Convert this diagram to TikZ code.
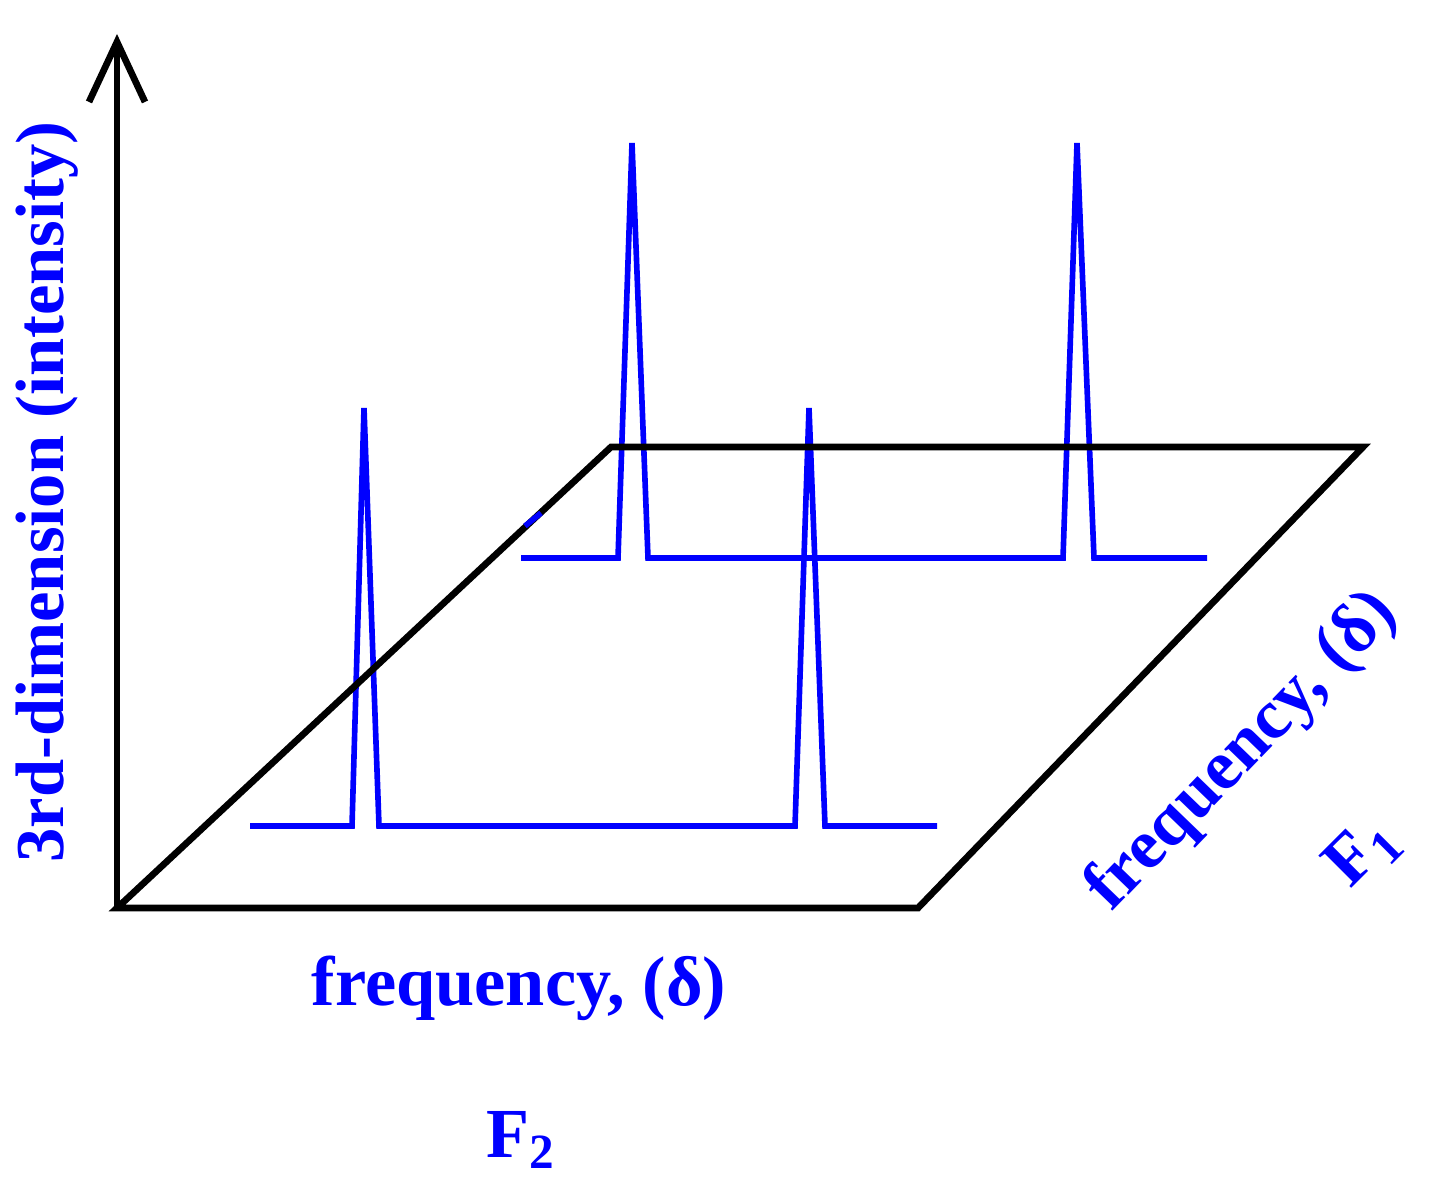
\documentclass[tikz,border=0pt]{standalone}
\usepackage{xcolor}
\usepackage{fontspec}
\setmainfont{Liberation Serif}
\usepackage{tikz}
\usetikzlibrary{arrows.meta,positioning}

\begin{document}
\begin{tikzpicture}[
    x=0.01cm, y=-0.01cm,
    plane/.style={draw=black, line width=1.9pt, line join=miter},
    peak/.style={draw=blue, line width=1.6pt, line join=miter},
    lbl/.style={text=blue, font=\fontsize{20}{24}\selectfont\bfseries, inner sep=0pt}
]
    \useasboundingbox (0,0) rectangle (1440,1182);

    % corners of the plane
    \coordinate (origin) at (117,908);
    \coordinate (front) at (918,908);
    \coordinate (farright) at (1363,447);
    \coordinate (farleft) at (611,447);
    \coordinate (top) at (117,34);

    % spectra
    \draw[peak] (250,826) -- (352,826) -- (364,408) -- (379,826) -- (795,826)
        -- (809,408) -- (825,826) -- (937,826);
    \draw[peak] (521,558) -- (618,558) -- (632,143) -- (648,558) -- (1063,558)
        -- (1077,143) -- (1094,558) -- (1207,558);

    % plane
    \draw[plane] (origin) -- (front) -- (farright) -- (farleft) -- cycle;
    \draw[peak] (525,526) -- (541,513);

    % intensity axis
    \draw[plane, -{Straight Barb[length=6mm, width=5.6mm]}] (origin) -- (top);

    % labels
    \node[lbl] (xlab) at (519,988) {frequency, (δ)};
    \node[lbl] (xname) at (521,1140) {F\textsubscript{2}};
    \node[lbl, rotate=90, font=\fontsize{19.5}{24}\selectfont\bfseries] (zlab) at (47,492) {3rd-dimension (intensity)};
    \node[lbl, rotate=46] (ylab) at (1243,752) {frequency, (δ)};
    \node[lbl, rotate=45] (yname) at (1363,853) {F\textsubscript{1}};
\end{tikzpicture}
\end{document}
